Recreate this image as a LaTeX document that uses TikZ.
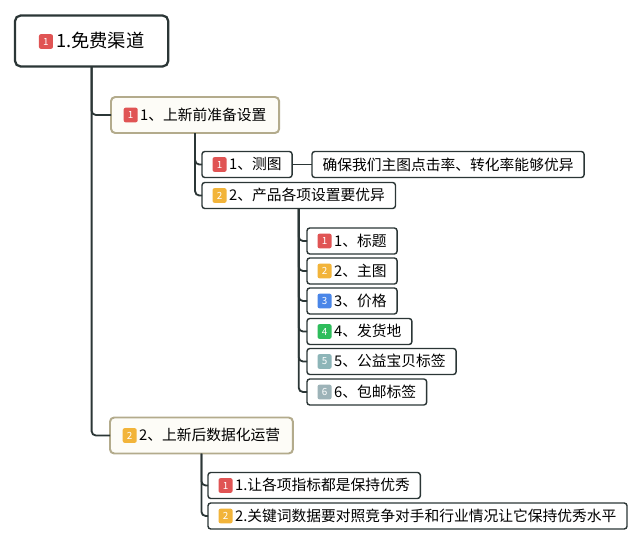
\documentclass[tikz,border=0pt]{standalone}
\usepackage{fontspec}
\setmainfont{Noto Sans CJK SC}
\usetikzlibrary{positioning}

\definecolor{linec}{HTML}{2B3636}
\definecolor{lvlborder}{HTML}{B3AB8C}
\definecolor{lvlfill}{HTML}{FDFCF7}
\definecolor{tagred}{HTML}{E05454}
\definecolor{tagorange}{HTML}{F2B43A}
\definecolor{tagblue}{HTML}{4A86E8}
\definecolor{taggreen}{HTML}{2EBD5C}
\definecolor{tagteal}{HTML}{8DB5B8}
\definecolor{taggrey}{HTML}{9DB3B8}

\newcommand{\numtag}[2]{\tikz[baseline=-0.65ex]\node[fill=#1,rounded corners=1.5pt,text=white,
  font=\fontsize{7}{7}\selectfont,inner sep=0pt,minimum width=10pt,minimum height=10.5pt]{#2};\,}

\begin{document}
\begin{tikzpicture}[x=0.025cm,y=-0.025cm,inner sep=0pt,outer sep=0pt,
rootbox/.style={draw=linec,rectangle,rounded corners=4pt,line width=1.6pt,fill=white,
  inner xsep=17pt,minimum height=1.275cm,font=\fontsize{13}{15}\selectfont},
lvlbox/.style={draw=lvlborder,rectangle,rounded corners=3pt,line width=1.4pt,fill=lvlfill,
  inner xsep=9pt,minimum height=0.9cm,font=\fontsize{10.5}{12}\selectfont},
leafbox/.style={draw=linec,rectangle,rounded corners=2pt,line width=1pt,fill=white,
  inner xsep=7.5pt,minimum height=0.65cm,font=\fontsize{10.5}{12}\selectfont},
link/.style={draw=linec,line width=1.3pt,rounded corners=3pt}]

\useasboundingbox (0,0) rectangle (640,544);

\draw (15,41) node[rootbox,anchor=west] (root) {\numtag{tagred}{1}1.免费渠道};
\draw (111,115) node[lvlbox,anchor=west] (pre) {\numtag{tagred}{1}1、上新前准备设置};
\draw (202,164.5) node[leafbox,anchor=west] (test) {\numtag{tagred}{1}1、测图};
\draw (312,164.5) node[leafbox,anchor=west] (testnote) {确保我们主图点击率、转化率能够优异};
\draw (202,195.5) node[leafbox,anchor=west] (items) {\numtag{tagorange}{2}2、产品各项设置要优异};

\draw (307,241) node[leafbox,anchor=west] (title) {\numtag{tagred}{1}1、标题};
\draw (307,271) node[leafbox,anchor=west] (pic) {\numtag{tagorange}{2}2、主图};
\draw (307,301) node[leafbox,anchor=west] (price) {\numtag{tagblue}{3}3、价格};
\draw (307,331.5) node[leafbox,anchor=west] (ship) {\numtag{taggreen}{4}4、发货地};
\draw (307,361.5) node[leafbox,anchor=west] (charity) {\numtag{tagteal}{5}5、公益宝贝标签};
\draw (307,392) node[leafbox,anchor=west] (freeship) {\numtag{taggrey}{6}6、包邮标签};

\draw (110,435.5) node[lvlbox,anchor=west] (post) {\numtag{tagorange}{2}2、上新后数据化运营};
\draw (208,485.5) node[leafbox,anchor=west] (kpi) {\numtag{tagred}{1}1.让各项指标都是保持优秀};
\draw (208,516) node[leafbox,anchor=west] (kw) {\numtag{tagorange}{2}2.关键词数据要对照竞争对手和行业情况让它保持优秀水平};

% tree links
\draw[link] (root.south) |- (pre.west);
\draw[link] (root.south) |- (post.west);
\draw[link] (pre.south) |- (test.west);
\draw[link] (pre.south) |- (items.west);
\draw[link] (test) -- (testnote);
\foreach \n in {title,pic,price,ship,charity,freeship}
  \draw[link] (items.south) |- (\n.west);
\draw[link] (post.south) |- (kpi.west);
\draw[link] (post.south) |- (kw.west);
\end{tikzpicture}
\end{document}
